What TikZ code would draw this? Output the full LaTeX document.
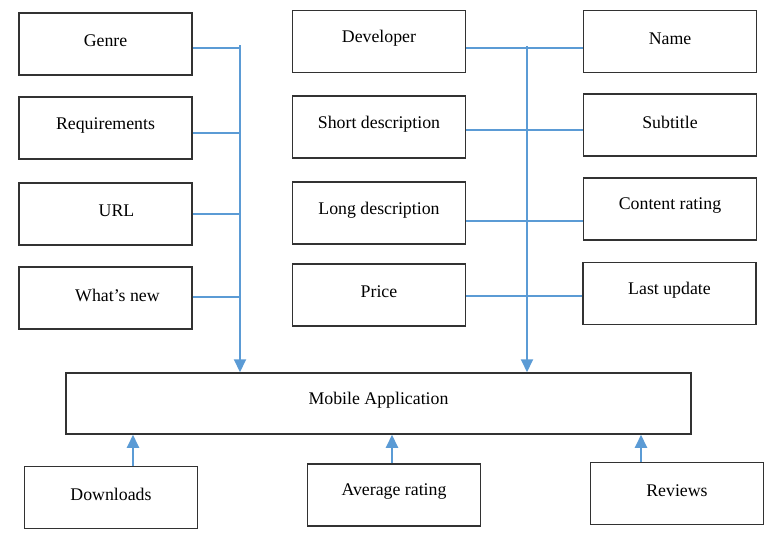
\documentclass[tikz,border=0pt]{standalone}
\usepackage{fontspec}
\setmainfont{Liberation Serif}
\usetikzlibrary{arrows.meta}
\definecolor{lnblue}{RGB}{91,155,213}
\definecolor{bordr}{RGB}{50,50,50}
\tikzset{
  box/.style={draw=bordr, line width=1.5pt, minimum width=173pt, minimum height=62pt, inner sep=0pt},
  lbl/.style={font=\fontsize{17.8}{20}\selectfont, yshift=3pt},
  conn/.style={draw=lnblue, line width=2pt},
  arr/.style={conn, -{Triangle[width=12pt,length=13pt]}}
}
\begin{document}
\begin{tikzpicture}[x=1pt,y=-1pt]
\useasboundingbox (0,0) rectangle (780,544);
% left column
\node[box, label={[lbl]center:Genre}] (genre) at (105.5,44) {};
\node[box, label={[lbl]center:Requirements}] (req) at (105.5,128) {};
\node[box, label={[lbl, xshift=11pt]center:URL}] (url) at (105.5,214) {};
\node[box, label={[lbl, xshift=12pt]center:What’s new}] (wn) at (105.5,298) {};
% middle column
\node[box, label={[lbl]center:Developer}] (dev) at (379,41.5) {};
\node[box, label={[lbl]center:Short description}] (short) at (379,127) {};
\node[box, label={[lbl]center:Long description}] (long) at (379,213) {};
\node[box, label={[lbl]center:Price}] (price) at (379,295) {};
% right column
\node[box, label={[lbl]center:Name}] (name) at (670,41.5) {};
\node[box, label={[lbl]center:Subtitle}] (sub) at (670,125) {};
\node[box, label={[lbl]center:Content rating}] (cr) at (670,209) {};
\node[box, label={[lbl]center:Last update}] (lu) at (669.5,293.5) {};
% main
\node[box, minimum width=625pt, minimum height=61pt, label={[lbl]center:Mobile Application}] (mob) at (378.5,403.5) {};
% bottom
\node[box, label={[lbl]center:Downloads}] (down) at (111,497.5) {};
\node[box, label={[lbl]center:Average rating}] (avg) at (394,495) {};
\node[box, label={[lbl]center:Reviews}] (rev) at (677,493.5) {};
% buses
\coordinate (ltop) at (240,45);
\coordinate (rtop) at (527,46);
\draw[arr] (ltop) -- (ltop |- mob.north);
\draw[arr] (rtop) -- (rtop |- mob.north);
\draw[conn] (genre.east |- 0,48) -- (ltop |- 0,48);
\draw[conn] (req.east |- 0,133) -- (ltop |- 0,133);
\draw[conn] (url.east |- 0,214) -- (ltop |- 0,214);
\draw[conn] (wn.east |- 0,297) -- (ltop |- 0,297);
\draw[conn] (dev.east |- 0,48) -- (name.west |- 0,48);
\draw[conn] (short.east |- 0,130) -- (sub.west |- 0,130);
\draw[conn] (long.east |- 0,221) -- (cr.west |- 0,221);
\draw[conn] (price.east |- 0,296) -- (lu.west |- 0,296);
% up arrows
\draw[arr] (down.north -| 133,0) -- (mob.south -| 133,0);
\draw[arr] (avg.north -| 392,0) -- (mob.south -| 392,0);
\draw[arr] (rev.north -| 641,0) -- (mob.south -| 641,0);
\end{tikzpicture}
\end{document}
